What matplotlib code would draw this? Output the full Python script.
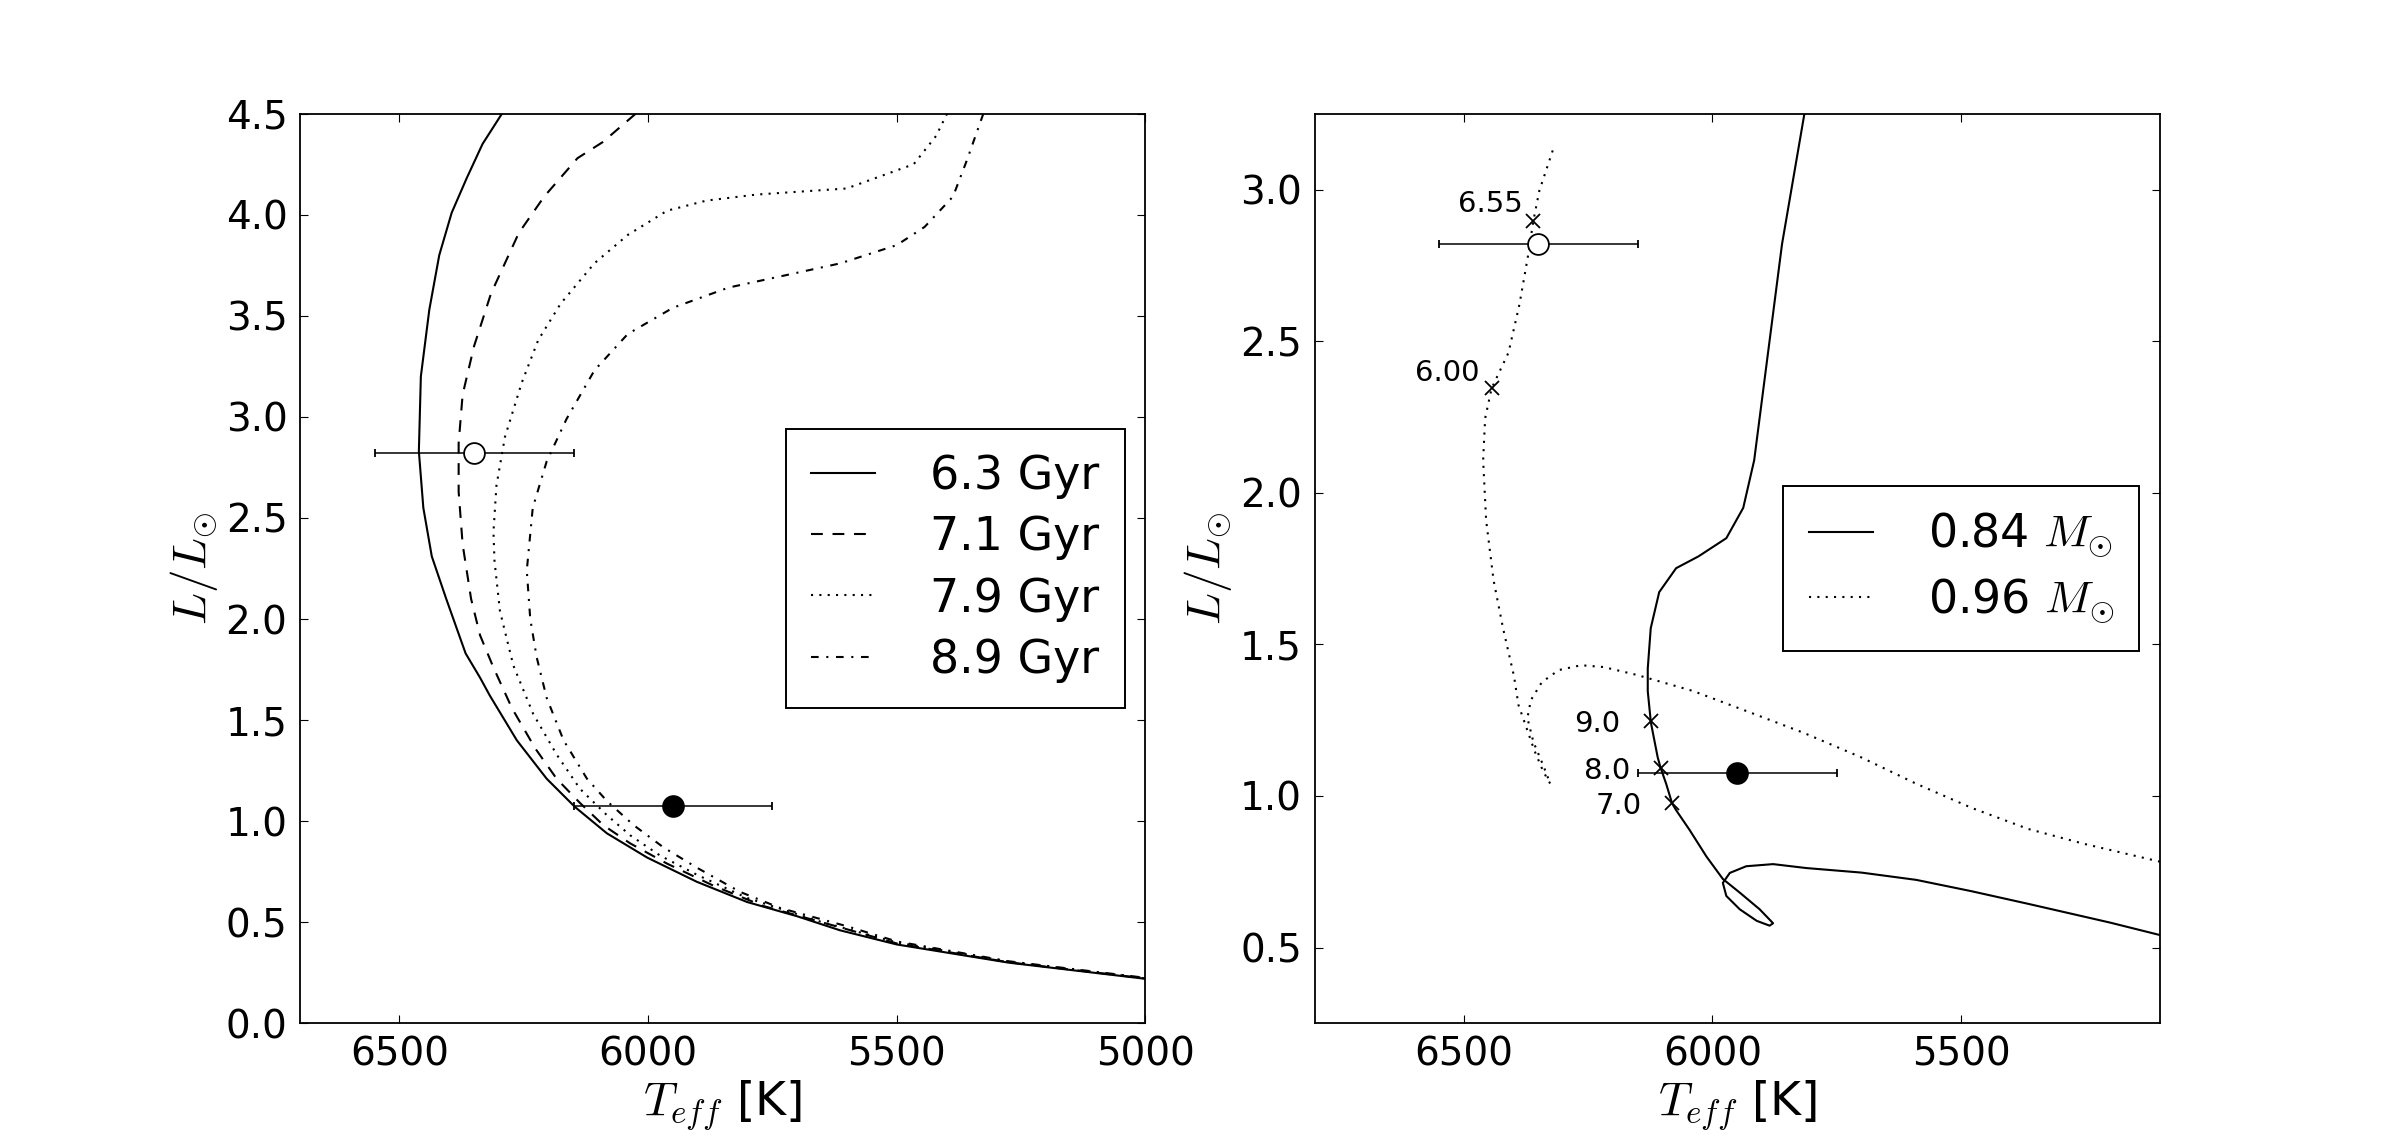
import matplotlib
matplotlib.use("Agg")
import matplotlib.pyplot as plt

# --- isochrones (left panel): Teff [K], L/Lsun
t_63 = [6294, 6333, 6365, 6395, 6420, 6440, 6457, 6461, 6452, 6435, 6406, 6367,
        6338, 6318, 6264, 6204, 6147, 6083, 6002, 5902, 5801, 5701, 5614, 5500,
        5275, 5000]
L_63 = [4.50, 4.35, 4.18, 4.01, 3.80, 3.53, 3.20, 2.83, 2.55, 2.31, 2.10, 1.83,
        1.71, 1.62, 1.40, 1.21, 1.07, 0.94, 0.82, 0.70, 0.60, 0.53, 0.46, 0.39,
        0.30, 0.22]

t_71 = [6025, 6091, 6142, 6209, 6260, 6316, 6350, 6373, 6381, 6381, 6373, 6356,
        6338, 6311, 6274, 6227, 6184, 6137, 6090, 6036, 5962, 5868, 5768, 5600,
        5500, 5275, 5000]
L_71 = [4.50, 4.36, 4.28, 4.09, 3.91, 3.61, 3.35, 3.11, 2.87, 2.63, 2.37, 2.10,
        1.92, 1.76, 1.56, 1.36, 1.21, 1.09, 0.98, 0.89, 0.79, 0.68, 0.58, 0.465,
        0.395, 0.302, 0.222]

t_79 = [5399, 5421, 5466, 5601, 5782, 5883, 5962, 6041, 6108, 6176, 6221, 6254,
        6288, 6305, 6311, 6309, 6298, 6271, 6231, 6184, 6137, 6083, 6036, 5976,
        5902, 5801, 5650, 5500, 5275, 5000]
L_79 = [4.50, 4.39, 4.25, 4.13, 4.10, 4.07, 4.02, 3.90, 3.76, 3.56, 3.38, 3.17,
        2.90, 2.66, 2.43, 2.29, 2.04, 1.77, 1.53, 1.33, 1.16, 1.03, 0.93, 0.83,
        0.735, 0.62, 0.50, 0.40, 0.305, 0.224]

t_89 = [5326, 5359, 5387, 5444, 5500, 5613, 5725, 5838, 5950, 6041, 6108, 6164,
        6204, 6232, 6244, 6237, 6224, 6204, 6170, 6123, 6083, 6029, 5969, 5902,
        5815, 5734, 5600, 5500, 5275, 5000]
L_89 = [4.50, 4.27, 4.09, 3.94, 3.85, 3.76, 3.70, 3.64, 3.54, 3.41, 3.23, 2.99,
        2.78, 2.55, 2.24, 2.00, 1.81, 1.61, 1.40, 1.21, 1.10, 0.98, 0.87, 0.77,
        0.65, 0.57, 0.48, 0.405, 0.307, 0.225]

iso_labels = ["6.3 Gyr", "7.1 Gyr", "7.9 Gyr", "8.9 Gyr"]

# --- evolutionary tracks (right panel)
t_084 = [5100, 5200, 5365, 5480, 5590, 5700, 5811, 5878, 5932, 5965, 5979, 5972,
         5945, 5911, 5885, 5878, 5905, 5945, 5979, 6012, 6046, 6073, 6081, 6093,
         6104, 6110, 6123, 6124, 6130, 6130, 6124, 6107, 6073, 6028, 5972, 5938,
         5916, 5893, 5860, 5815]
L_084 = [0.541, 0.582, 0.644, 0.686, 0.723, 0.747, 0.762, 0.775, 0.768, 0.746,
         0.713, 0.670, 0.626, 0.588, 0.572, 0.580, 0.626, 0.681, 0.726, 0.800,
         0.888, 0.953, 0.975, 1.040, 1.092, 1.127, 1.236, 1.247, 1.345, 1.420,
         1.553, 1.672, 1.751, 1.790, 1.850, 1.950, 2.107, 2.400, 2.820, 3.250]

t_096 = [5100, 5253, 5365, 5478, 5590, 5702, 5815, 5927, 6039, 6152, 6219, 6264,
         6309, 6343, 6365, 6372, 6360, 6340, 6326, 6340, 6358, 6375, 6390, 6399,
         6421, 6440, 6455, 6461, 6457, 6444, 6410, 6388, 6371, 6360, 6348, 6320]
L_096 = [0.783, 0.842, 0.891, 0.960, 1.040, 1.128, 1.207, 1.277, 1.346, 1.399,
         1.425, 1.431, 1.415, 1.375, 1.316, 1.257, 1.178, 1.100, 1.040, 1.080,
         1.150, 1.230, 1.300, 1.395, 1.553, 1.711, 1.909, 2.107, 2.245, 2.344,
         2.462, 2.621, 2.779, 2.897, 2.996, 3.134]

track_labels = [r"0.84 $M_{\odot}$", r"0.96 $M_{\odot}$"]

# ages marked along the tracks [Gyr]
age_labels = ["6.55", "6.00", "9.0", "8.0", "7.0"]
age_teff = [6360, 6444, 6124, 6104, 6081]
age_L = [2.897, 2.344, 1.247, 1.092, 0.975]

# the two stars
star_teff = [6350, 5950]
star_L = [2.82, 1.075]
star_err = [200, 200]

plt.rcParams["mathtext.fontset"] = "cm"
plt.rcParams["lines.scale_dashes"] = False

fig, (ax1, ax2) = plt.subplots(1, 2, figsize=(24, 11.37), dpi=100)
fig.subplots_adjust(left=0.125, right=0.9, bottom=0.1, top=0.9, wspace=0.2)

lw = 1.5
dotted = (0, (1.5, 4.5))
styles = [dict(ls="-"), dict(ls=(0, (8.5, 7))), dict(ls=dotted),
          dict(ls=(0, (5.5, 5.5, 1.5, 5.5)))]

# Left panel: isochrones
for t, L, lab, st in zip([t_63, t_71, t_79, t_89], [L_63, L_71, L_79, L_89],
                         iso_labels, styles):
    ax1.plot(t, L, color="k", lw=lw, label=lab, **st)

# Right panel: tracks
ax2.plot(t_084, L_084, color="k", lw=lw, ls="-", label=track_labels[0])
ax2.plot(t_096, L_096, color="k", lw=lw, ls=dotted, label=track_labels[1])
ax2.plot(age_teff, age_L, ls="none", marker="x", ms=10, mew=1.3, color="k")
offsets = [(-8, 12), (-9, 11), (-22, -2), (-22, -2), (-22, -2)]
for lab, t, L, off in zip(age_labels, age_teff, age_L, offsets):
    ax2.annotate(lab, xy=(t, L), xytext=off, textcoords="offset points",
                 ha="right", va="center", fontsize=21)

# stars on both panels
for ax in (ax1, ax2):
    ax.errorbar(star_teff[0], star_L[0], xerr=star_err[0], fmt="o", ms=15,
                mfc="white", mec="k", mew=1.3, ecolor="k", elinewidth=1.1,
                capsize=3, capthick=1.0, zorder=5)
    ax.errorbar(star_teff[1], star_L[1], xerr=star_err[1], fmt="o", ms=15,
                mfc="k", mec="k", mew=1.3, ecolor="k", elinewidth=1.1,
                capsize=3, capthick=1.0, zorder=5)

ax1.set_xlim(6700, 5000)
ax1.set_ylim(0, 4.5)
ax1.set_xticks([6500, 6000, 5500, 5000])
ax1.set_yticks([0.0, 0.5, 1.0, 1.5, 2.0, 2.5, 3.0, 3.5, 4.0, 4.5])

ax2.set_xlim(6800, 5100)
ax2.set_ylim(0.25, 3.25)
ax2.set_xticks([6500, 6000, 5500])
ax2.set_yticks([0.5, 1.0, 1.5, 2.0, 2.5, 3.0])

for ax in (ax1, ax2):
    ax.set_xlabel(r"$T_{eff}$ [K]", fontsize=34)
    ax.set_ylabel(r"$L/L_{\odot}$", fontsize=34)
    ax.tick_params(direction="in", top=True, right=True, length=6, width=0.8,
                   labelsize=28, pad=9)
    for sp in ax.spines.values():
        sp.set_linewidth(1.3)
    leg = ax.legend(loc="center right", fontsize=33, fancybox=False,
                    framealpha=1, handlelength=1.4, handletextpad=1.2,
                    borderpad=0.55, labelspacing=0.35, borderaxespad=0.45)
    leg.get_frame().set_edgecolor("k")
    leg.get_frame().set_linewidth(1.4)

fig.savefig("out.png", dpi=100)
